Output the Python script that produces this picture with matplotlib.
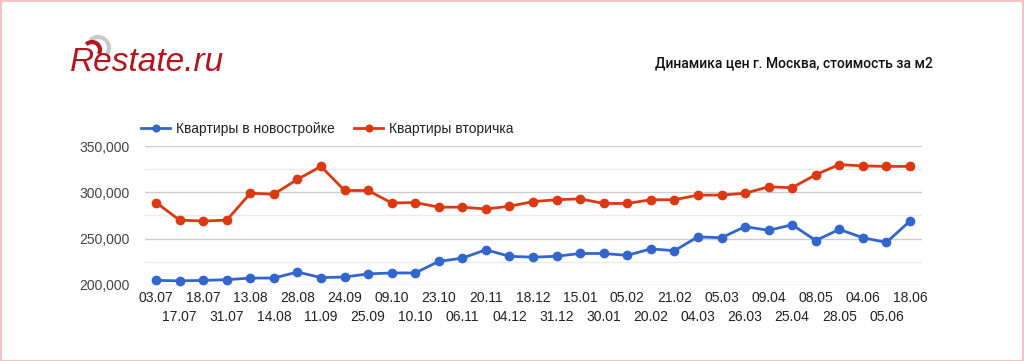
import matplotlib
matplotlib.use("Agg")
import matplotlib.pyplot as plt
import matplotlib.patches as mpatches
from matplotlib.ticker import MultipleLocator, FuncFormatter, FixedLocator

plt.rcParams["font.family"] = ["Liberation Sans", "DejaVu Sans"]

# ── Palette ──────────────────────────────────────────────────────────────────
BLUE = "#3366CC"
RED = "#DC3912"
LOGO_RED = "#B3151D"
GRID_MAJOR = "#CCCCCC"
GRID_MINOR = "#EBEBEB"
TICK_COL = "#444444"

# ── Data ─────────────────────────────────────────────────────────────────────
dates = ["03.07", "17.07", "18.07", "31.07", "13.08", "14.08", "28.08", "11.09",
         "24.09", "25.09", "09.10", "10.10", "23.10", "06.11", "20.11", "04.12",
         "18.12", "31.12", "15.01", "30.01", "05.02", "20.02", "21.02", "04.03",
         "05.03", "26.03", "09.04", "25.04", "08.05", "28.05", "04.06", "05.06",
         "18.06"]

new_build = [205000, 204500, 205000, 205700, 207500, 207500, 214000, 208000,
             208600, 212000, 213000, 213000, 225500, 229000, 238000, 231000,
             230000, 231000, 234000, 234000, 232000, 239000, 237000, 252000,
             251000, 263000, 259000, 265000, 248000, 260000, 251000, 246000,
             269000]

secondary = [289000, 270000, 269000, 270000, 299000, 298000, 314000, 328000,
             302000, 302000, 288500, 289000, 284000, 284000, 282000, 285000,
             290000, 292000, 293000, 288000, 288000, 292000, 292000, 297000,
             297000, 299000, 306000, 305000, 319000, 330000, 328500, 328000,
             328000]

series_names = ["Квартиры в новостройке", "Квартиры вторичка"]

# ── Figure ───────────────────────────────────────────────────────────────────
fig = plt.figure(figsize=(10.24, 3.61), dpi=100)
fig.patch.set_facecolor("white")

# thin pink frame
fig.add_artist(mpatches.Rectangle((0.0005, 0.001), 0.9985, 0.997,
                                  transform=fig.transFigure, fill=False,
                                  edgecolor="#F2B8B8", linewidth=1.2))

ax = fig.add_axes([145 / 1024, 1 - 285 / 361, 777 / 1024, 139 / 361])
x = list(range(len(dates)))

ax.plot(x, new_build, color=BLUE, linewidth=2, marker="o", markersize=6,
        label=series_names[0], zorder=3, clip_on=False)
ax.plot(x, secondary, color=RED, linewidth=2, marker="o", markersize=6,
        label=series_names[1], zorder=3, clip_on=False)

ax.set_xlim(-0.47, len(dates) - 1 + 0.51)
ax.set_ylim(200000, 350000)

# y axis
ax.yaxis.set_major_locator(MultipleLocator(50000))
ax.yaxis.set_minor_locator(MultipleLocator(25000))
ax.yaxis.set_major_formatter(FuncFormatter(lambda v, p: f"{int(v):,}"))
ax.grid(True, which="major", axis="y", color=GRID_MAJOR, linewidth=1, zorder=0)
ax.grid(True, which="minor", axis="y", color=GRID_MINOR, linewidth=1, zorder=0)
ax.tick_params(axis="y", which="both", length=0, pad=11, labelsize=10,
               labelcolor=TICK_COL)
ax.set_axisbelow(True)

# x axis: alternating two rows of labels
ax.xaxis.set_major_locator(FixedLocator(x[0::2]))
ax.xaxis.set_minor_locator(FixedLocator(x[1::2]))
ax.set_xticklabels(dates[0::2])
ax.set_xticklabels(dates[1::2], minor=True)
ax.tick_params(axis="x", which="major", length=0, pad=4, labelsize=10,
               labelcolor="#222222")
ax.tick_params(axis="x", which="minor", length=0, pad=18, labelsize=10,
               labelcolor="#222222")

for s in ax.spines.values():
    s.set_visible(False)

# legend
ax.legend(loc="lower left", bbox_to_anchor=(-0.005, 1.075), ncol=2,
          frameon=False, fontsize=10, handlelength=2.1, handletextpad=0.4,
          columnspacing=1.4, borderaxespad=0, borderpad=0,
          labelcolor="#222222", markerscale=0.8)

# ── Header ───────────────────────────────────────────────────────────────────
fig.text(70 / 1024, 1 - 71 / 361, "Restate.ru", fontsize=24, style="italic",
         color=LOGO_RED, va="baseline", ha="left")
# swooshes above the R
fig.add_artist(mpatches.Arc((98 / 1024, 1 - 48 / 361), 22 / 1024, 22 / 361,
                            theta1=-60, theta2=110, transform=fig.transFigure,
                            color="#C9C9C9", linewidth=3))
fig.add_artist(mpatches.Arc((92 / 1024, 1 - 50 / 361), 16 / 1024, 16 / 361,
                            theta1=-60, theta2=110, transform=fig.transFigure,
                            color=LOGO_RED, linewidth=3))

fig.text(933 / 1024, 1 - 63 / 361, "Динамика цен г. Москва, стоимость за м2",
         fontsize=10, fontweight="medium", color="#111111", ha="right",
         va="center", family=["Roboto", "DejaVu Sans"])

fig.savefig("out.png", dpi=100, facecolor="white")
